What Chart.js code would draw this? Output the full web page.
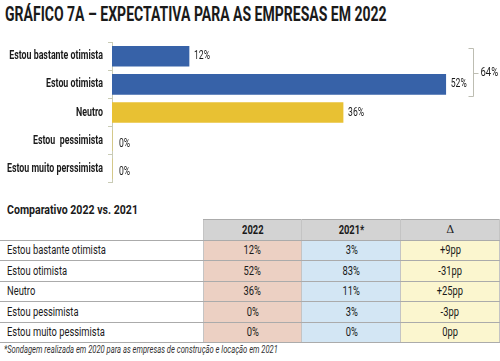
<!DOCTYPE html>
<html>
<head>
<meta charset="utf-8">
<script src="https://cdn.jsdelivr.net/npm/chart.js@4/dist/chart.umd.min.js"></script>
<style>
  body { margin: 0; width: 500px; height: 361px; background: #fff; position: relative; overflow: hidden;
         font-family: Roboto, "Liberation Sans", sans-serif; color: #1a1a1a; }
  .sq { display: inline-block; white-space: nowrap; }
  #title { position: absolute; left: 5px; top: 2px; font-size: 20px; font-weight: bold; transform-origin: left top; }
  #wrap { position: absolute; left: 0; top: 30px; width: 500px; height: 165px; }
  #sub { position: absolute; left: 7px; top: 202px; font-size: 13px; font-weight: bold; transform-origin: left top; }
  #tbl { position: absolute; left: 0; top: 219px; border-collapse: collapse; font-size: 12px; }
  #tbl td { height: 19.5px; padding: 0; border: 1px solid #ababab; border-left-color: #c4c4c4; border-right-color: #c4c4c4; }
  #tbl td.lab { padding-left: 7px; border-left: none; border-right: 1px solid #c4c4c4; }
  #tbl td.lab .sq { transform-origin: left center; }
  #tbl td.c1 { background: #ecd0c3; text-align: center; }
  #tbl td.c2 { background: #d3e6f4; text-align: center; }
  #tbl td.c3 { background: #fbf6cf; text-align: center; }
  #tbl tr.head td.h { background: #d3d3d3; font-weight: bold; text-align: center; }
  #tbl tr.head td.blank { border: none; border-bottom: 1px solid #ababab; }
  #note { position: absolute; left: 4px; top: 344px; font-size: 10px; font-style: italic; color: #333; transform-origin: left top; }
</style>
</head>
<body>
<div id="title" class="sq">GRÁFICO 7A – EXPECTATIVA PARA AS EMPRESAS EM 2022</div>
<div id="wrap"><canvas id="chart" width="500" height="165"></canvas></div>
<div id="sub" class="sq">Comparativo 2022 vs. 2021</div>
<table id="tbl"></table>
<div id="note" class="sq">*Sondagem realizada em 2020 para as empresas de construção e locação em 2021</div>
<script>
const categories = ['Estou bastante otimista', 'Estou otimista', 'Neutro', 'Estou  pessimista', 'Estou muito perssimista'];
const values2022 = [12, 52, 36, 0, 0];
const barColors = ['#3762a8', '#3762a8', '#e8c133', '#e8c133', '#e8c133'];

const tableRows = ['Estou bastante otimista', 'Estou otimista', 'Neutro', 'Estou pessimista', 'Estou muito pessimista'];
const tableHead = ['2022', '2021*', '\u0394'];
const col2022 = ['12%', '52%', '36%', '0%', '0%'];
const col2021 = ['3%', '83%', '11%', '3%', '0%'];
const colDelta = ['+9pp', '-31pp', '+25pp', '-3pp', '0pp'];

const fontFam = 'Roboto, "Liberation Sans", sans-serif';

// squeeze an element horizontally so it is as wide as in the original
function fitWidth(el, target) {
    const s = target / el.offsetWidth;
    el.style.transform = `scaleX(${s})`;
    return s;
}
fitWidth(document.getElementById('title'), 382);
fitWidth(document.getElementById('sub'), 131);
fitWidth(document.getElementById('note'), 274);

// build comparison table
const tbl = document.getElementById('tbl');
let html = '<tr class="head"><td class="blank" style="width:203px"></td>';
tableHead.forEach((h, i) => {
    html += `<td class="h" style="width:98px${i == 2 ? ';font-weight:normal;font-family:DejaVu Serif;font-size:11px' : ''}"><span class="sq">${h}</span></td>`;
});
html += '</tr>';
tableRows.forEach((r, i) => {
    html += `<tr><td class="lab"><span class="sq">${r}</span></td><td class="c1"><span class="sq">${col2022[i]}</span></td>` +
        `<td class="c2"><span class="sq">${col2021[i]}</span></td><td class="c3"><span class="sq">${colDelta[i]}</span></td></tr>`;
});
tbl.innerHTML = html;
const tblScale = 99 / tbl.querySelector('td.lab .sq').offsetWidth;
tbl.querySelectorAll('.sq').forEach(el => {
    if (!el.textContent.includes('\u0394')) el.style.transform = `scaleX(${tblScale})`;
});

// measure how much the canvas text must be squeezed
const mctx = document.createElement('canvas').getContext('2d');
mctx.font = 'bold 12px ' + fontFam;
const tickScale = 96 / mctx.measureText('Estou muito perssimista').width;
mctx.font = '12px ' + fontFam;
const valScale = 16 / mctx.measureText('12%').width;

// category scale whose labels are drawn narrower, like a condensed face
class NarrowCategoryScale extends Chart.CategoryScale {
    _computeLabelArea() {
        return undefined;
    }
    drawLabels(chartArea) {
        const ctx = this.ctx;
        const x0 = this.right - this.options.grid.tickLength - this.options.ticks.padding;
        ctx.save();
        ctx.translate(x0 * (1 - tickScale), 0);
        ctx.scale(tickScale, 1);
        super.drawLabels(chartArea);
        ctx.restore();
    }
}
NarrowCategoryScale.id = 'narrowCategory';
NarrowCategoryScale.defaults = Chart.CategoryScale.defaults;
Chart.register(NarrowCategoryScale);

function narrowText(ctx, text, x, y, s) {
    ctx.save();
    ctx.translate(x, y);
    ctx.scale(s, 1);
    ctx.fillText(text, 0, 0);
    ctx.restore();
}

const valueLabels = {
    id: 'valueLabels',
    afterDatasetsDraw(chart) {
        const ctx = chart.ctx;
        const meta = chart.getDatasetMeta(0);
        ctx.save();
        ctx.font = '12px ' + fontFam;
        ctx.fillStyle = '#1a1a1a';
        ctx.textBaseline = 'middle';
        meta.data.forEach((bar, i) => {
            const v = values2022[i];
            const yy = v == 0 ? bar.y + 3 : bar.y;
            narrowText(ctx, v + '%', bar.x + (v == 0 ? 7 : 5), yy, valScale);
        });

        // bracket grouping the two optimistic answers
        const b0 = meta.data[0], b1 = meta.data[1];
        const x = Math.round(chart.scales.x.getPixelForValue(values2022[1]) + 27) + 0.5;
        const top = Math.round(b0.y - b0.height / 2 + 2) + 0.5;
        const bot = Math.round(b1.y + b1.height / 2 + 2) + 0.5;
        const mid = Math.round((top + bot) / 2) + 0.5;
        ctx.strokeStyle = '#bdbdb2';
        ctx.lineWidth = 1;
        ctx.beginPath();
        ctx.moveTo(x - 5, top); ctx.lineTo(x, top); ctx.lineTo(x, bot); ctx.lineTo(x - 5, bot);
        ctx.moveTo(x, mid); ctx.lineTo(x + 5, mid);
        ctx.stroke();
        narrowText(ctx, (values2022[0] + values2022[1]) + '%', x + 7, mid - 1, valScale * 1.1);
        ctx.restore();
    }
};

new Chart(document.getElementById('chart'), {
    type: 'bar',
    data: {
        labels: categories,
        datasets: [{
            data: values2022,
            backgroundColor: barColors,
            barThickness: 20
        }]
    },
    options: {
        indexAxis: 'y',
        responsive: false,
        animation: false,
        layout: { padding: { top: 7, bottom: 6, right: 35 } },
        plugins: { legend: { display: false }, tooltip: { enabled: false } },
        scales: {
            x: { display: false, min: 0, max: 55 },
            y: {
                type: 'narrowCategory',
                afterFit(scale) { scale.width = 112; },
                border: { color: '#c9cbb5', width: 1 },
                grid: { offset: true, drawOnChartArea: false, tickLength: 4, color: '#c9cbb5' },
                ticks: {
                    padding: 5,
                    color: '#1a1a1a',
                    font: { family: fontFam, size: 12, weight: 'bold' }
                }
            }
        }
    },
    plugins: [valueLabels]
});
</script>
</body>
</html>
